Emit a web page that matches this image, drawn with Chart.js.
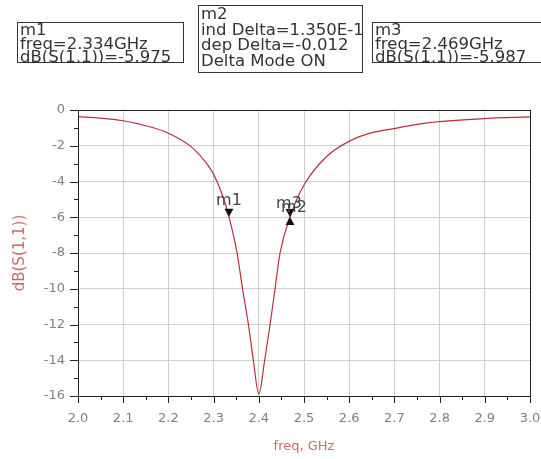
<!DOCTYPE html>
<html>
<head>
<meta charset="utf-8">
<script src="https://cdn.jsdelivr.net/npm/chart.js@4.4.1/dist/chart.umd.min.js"></script>
<style>
  html, body { margin: 0; padding: 0; background: #fff; }
  #wrap { width: 541px; height: 459px; }
</style>
</head>
<body>
<div id="wrap"><canvas id="chart" width="541" height="459"></canvas></div>
<script>
// S11 sweep, values
const freq = [2.0, 2.05, 2.1, 2.15, 2.2, 2.25, 2.28, 2.3, 2.32, 2.334, 2.352, 2.364, 2.377, 2.388, 2.4,
              2.413, 2.425, 2.436, 2.447, 2.469, 2.5, 2.55, 2.6, 2.65, 2.7, 2.75, 2.8, 2.9, 3.0];
const s11 = [-0.37, -0.45, -0.6, -0.88, -1.3, -2.05, -2.85, -3.6, -4.8, -5.975, -8.0, -10.0, -12.0, -14.0, -15.9,
             -14.0, -12.0, -10.0, -8.0, -5.987, -4.2, -2.6, -1.75, -1.27, -1.04, -0.8, -0.65, -0.48, -0.39];

const xTicks = [2.0, 2.1, 2.2, 2.3, 2.4, 2.5, 2.6, 2.7, 2.8, 2.9, 3.0];
const yTicks = [0, -2, -4, -6, -8, -10, -12, -14, -16];

// markers on the trace
const markerNames = ['m1', 'm3', 'm2'];
const markerFreq = [2.334, 2.469, 2.469];
const markerDb = [-5.975, -5.987, -5.987];
const markerUp = [false, false, true];

// marker readouts
const m1Lines = ['m1', 'freq=2.334GHz', 'dB(S(1,1))=-5.975'];
const m2Lines = ['m2', 'ind Delta=1.350E-1', 'dep Delta=-0.012', 'Delta Mode ON'];
const m3Lines = ['m3', 'freq=2.469GHz', 'dB(S(1,1))=-5.987'];

const traceColor = '#b3303a';
const titleColor = '#d06a6a';
const labelFont = { family: 'DejaVu Sans', size: 13 };

function drawBox(ctx, lines, x, y, w, h, first, lh) {
    ctx.save();
    ctx.fillStyle = '#fff';
    ctx.fillRect(x, y, w, h);
    ctx.strokeStyle = '#333';
    ctx.lineWidth = 1;
    ctx.strokeRect(x + 0.5, y + 0.5, w, h);
    ctx.beginPath();
    ctx.rect(x + 1, y + 1, w - 1, h - 1);
    ctx.clip();
    ctx.fillStyle = '#333';
    ctx.font = '16.5px "DejaVu Sans"';
    ctx.textBaseline = 'alphabetic';
    lines.forEach((t, i) => ctx.fillText(t, x + 3, y + first + i * lh));
    ctx.restore();
}

const adsPlugin = {
    id: 'ads',
    afterDraw(chart) {
        const { ctx, chartArea: a, scales: { x, y } } = chart;
        ctx.save();
        ctx.strokeStyle = '#222';
        ctx.lineWidth = 1;
        ctx.strokeRect(Math.round(a.left) + 0.5, Math.round(a.top) + 0.5,
                       Math.round(a.right - a.left), Math.round(a.bottom - a.top));

        // major + minor tick marks
        ctx.beginPath();
        xTicks.forEach((v, i) => {
            const px = Math.round(x.getPixelForValue(v)) + 0.5;
            ctx.moveTo(px, a.bottom); ctx.lineTo(px, a.bottom + 7);
            if (i < xTicks.length - 1) {
                const mx = Math.round(x.getPixelForValue((v + xTicks[i + 1]) / 2)) + 0.5;
                ctx.moveTo(mx, a.bottom); ctx.lineTo(mx, a.bottom + 4);
            }
        });
        yTicks.forEach((v, i) => {
            const py = Math.round(y.getPixelForValue(v)) + 0.5;
            ctx.moveTo(a.left, py); ctx.lineTo(a.left - 8, py);
            if (i < yTicks.length - 1) {
                const my = Math.round(y.getPixelForValue((v + yTicks[i + 1]) / 2)) + 0.5;
                ctx.moveTo(a.left, my); ctx.lineTo(a.left - 4, my);
            }
        });
        ctx.stroke();

        // marker triangles, tip on the trace
        ctx.fillStyle = '#111';
        markerNames.forEach((name, i) => {
            const px = x.getPixelForValue(markerFreq[i]);
            const py = y.getPixelForValue(markerDb[i]);
            const d = markerUp[i] ? 1 : -1;
            ctx.beginPath();
            ctx.moveTo(px, py);
            ctx.lineTo(px - 4.5, py + d * 8);
            ctx.lineTo(px + 4.5, py + d * 8);
            ctx.closePath();
            ctx.fill();
        });
        ctx.fillStyle = '#444';
        ctx.font = '16px "DejaVu Sans"';
        ctx.textAlign = 'center';
        markerNames.forEach((name, i) => {
            const px = x.getPixelForValue(markerFreq[i]);
            const py = y.getPixelForValue(markerDb[i]);
            const off = markerUp[i] ? [4, -5] : (i === 0 ? [0, -12] : [-1, -9]);
            ctx.fillText(name, px + off[0], py + off[1]);
        });
        ctx.restore();

        drawBox(ctx, m1Lines, 17, 22, 166, 40, 13, 13.5);
        drawBox(ctx, m2Lines, 198, 5, 164, 67, 14, 15.5);
        drawBox(ctx, m3Lines, 372, 22, 175, 40, 13, 13.5);
    }
};

const points = freq.map((f, i) => ({ x: f, y: s11[i] }));

new Chart(document.getElementById('chart'), {
    type: 'line',
    data: {
        datasets: [{
            data: points,
            borderColor: traceColor,
            borderWidth: 1.2,
            pointRadius: 0,
            cubicInterpolationMode: 'monotone',
            fill: false
        }]
    },
    options: {
        responsive: false,
        animation: false,
        layout: { padding: { left: 0, top: 110, right: 11, bottom: 0 } },
        plugins: { legend: { display: false }, tooltip: { enabled: false } },
        scales: {
            x: {
                type: 'linear',
                min: 2,
                max: 3,
                afterBuildTicks: s => { s.ticks = xTicks.map(v => ({ value: v })); },
                afterFit: s => { s.height = 63; s.paddingLeft = 0; s.paddingRight = 0; },
                ticks: {
                    callback: v => v.toFixed(1),
                    color: '#808080',
                    font: labelFont,
                    padding: 15,
                    maxRotation: 0,
                    autoSkip: false
                },
                grid: { color: '#cfcfcf', drawTicks: false },
                border: { display: false },
                title: {
                    display: true,
                    text: 'freq, GHz',
                    color: titleColor,
                    font: { family: 'DejaVu Sans', size: 13 },
                    padding: { top: 0, bottom: 5 }
                }
            },
            y: {
                type: 'linear',
                min: -16,
                max: 0,
                afterBuildTicks: s => { s.ticks = yTicks.map(v => ({ value: v })); },
                afterFit: s => { s.width = 78; s.paddingTop = 0; s.paddingBottom = 0; },
                ticks: {
                    color: '#808080',
                    font: labelFont,
                    padding: 13,
                    autoSkip: false
                },
                grid: { color: '#cfcfcf', drawTicks: false },
                border: { display: false },
                title: {
                    display: true,
                    text: 'dB(S(1,1))',
                    color: titleColor,
                    font: { family: 'DejaVu Sans', size: 15 },
                    padding: { top: 11, bottom: 0 }
                }
            }
        }
    },
    plugins: [adsPlugin]
});
</script>
</body>
</html>
